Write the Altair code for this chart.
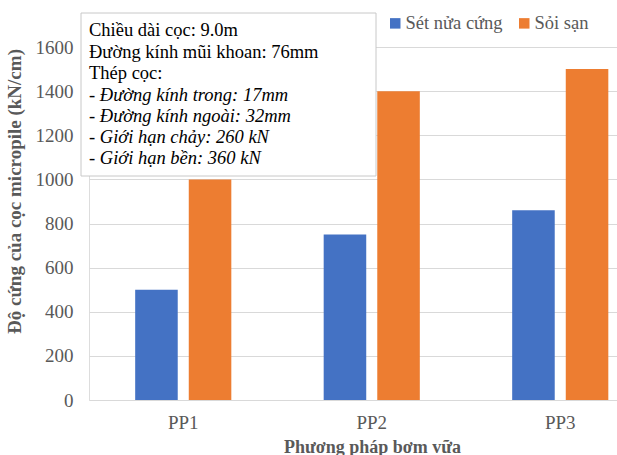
import altair as alt
import pandas as pd

# Grouting methods and stiffness of the micropile for each soil type (kN/cm)
methods = ["PP1", "PP2", "PP3"]
soils = ["Sét nửa cứng", "Sỏi sạn"]
clay_values = [500, 750, 860]
gravel_values = [1000, 1400, 1500]
y_ticks = [0, 200, 400, 600, 800, 1000, 1200, 1400, 1600]

info_lines = ["Chiều dài cọc: 9.0m", "Đường kính mũi khoan: 76mm", "Thép cọc:"]
steel_lines = [
    "- Đường kính trong: 17mm",
    "- Đường kính ngoài: 32mm",
    "- Giới hạn chảy: 260 kN",
    "- Giới hạn bền: 360 kN",
]

rows = []
for m, c, g in zip(methods, clay_values, gravel_values):
    rows.append({"method": m, "soil": soils[0], "value": c})
    rows.append({"method": m, "soil": soils[1], "value": g})
df = pd.DataFrame(rows)

SERIF = "Liberation Serif"
GREY = "#595959"

bars = alt.Chart(df).mark_bar(clip=True).encode(
    x=alt.X(
        "method:N",
        sort=methods,
        scale=alt.Scale(range=[0, 565.5], paddingInner=0.49, paddingOuter=0.245),
        axis=alt.Axis(
            title="Phương pháp bơm vữa",
            titleFont=SERIF,
            titleFontSize=18,
            titleFontWeight="bold",
            titleColor=GREY,
            titlePadding=6,
            titleX=283,
            labelFont=SERIF,
            labelFontSize=19,
            labelColor=GREY,
            labelPadding=13,
            labelAngle=0,
            ticks=False,
            domain=False,
            grid=False,
        ),
    ),
    xOffset=alt.XOffset("soil:N", sort=soils, scale=alt.Scale(paddingInner=0.206, paddingOuter=0)),
    y=alt.Y(
        "value:Q",
        scale=alt.Scale(domain=[0, 1600], nice=False),
        axis=alt.Axis(
            values=y_ticks,
            format="d",
            title="Độ cứng của cọc micropile (kN/cm)",
            titleFont=SERIF,
            titleFontSize=19,
            titleFontWeight="bold",
            titleColor=GREY,
            titlePadding=11,
            titleY=144,
            labelFont=SERIF,
            labelFontSize=19,
            labelColor=GREY,
            labelPadding=16,
            ticks=False,
            domain=False,
            gridColor="#d9d9d9",
            gridWidth=1,
        ),
    ),
    color=alt.Color(
        "soil:N",
        sort=soils,
        scale=alt.Scale(domain=soils, range=["#4472C4", "#ED7D31"]),
        legend=alt.Legend(
            title=None,
            orient="none",
            direction="horizontal",
            legendX=297,
            legendY=-33,
            symbolType="square",
            symbolSize=110,
            symbolStrokeWidth=0,
            labelFont=SERIF,
            labelFontSize=18.5,
            labelColor=GREY,
            labelOffset=1,
            columnPadding=12,
        ),
    ),
)

# Annotation box with pile specifications
box = alt.Chart(pd.DataFrame({"k": [0]})).mark_rect(
    fill="white", stroke="#c8c8c8", strokeWidth=1, clip=False
).encode(
    x=alt.value(-8), x2=alt.value(287), y=alt.value(-34), y2=alt.value(129)
)

info = alt.Chart(pd.DataFrame({"k": [0]})).mark_text(
    text=info_lines,
    font=SERIF,
    fontSize=18.5,
    lineHeight=21.5,
    align="left",
    baseline="middle",
    color="black",
).encode(x=alt.value(0), y=alt.value(-17))

steel = alt.Chart(pd.DataFrame({"k": [0]})).mark_text(
    text=steel_lines,
    font=SERIF,
    fontSize=18.5,
    fontStyle="italic",
    lineHeight=21,
    align="left",
    baseline="middle",
    color="black",
).encode(x=alt.value(0), y=alt.value(47.5))

chart = alt.layer(bars, box, info, steel).properties(
    width=528,
    height=353,
    autosize=alt.AutoSizeParams(type="none"),
    padding={"left": 89, "top": 47, "right": 0, "bottom": 55},
).configure_view(
    stroke=None
).configure_axis(
    labelFont=SERIF, titleFont=SERIF
).configure_legend(
    labelFont=SERIF
).configure(background="white")

chart.save("out.html", embed_options={"renderer": "svg", "actions": False})
